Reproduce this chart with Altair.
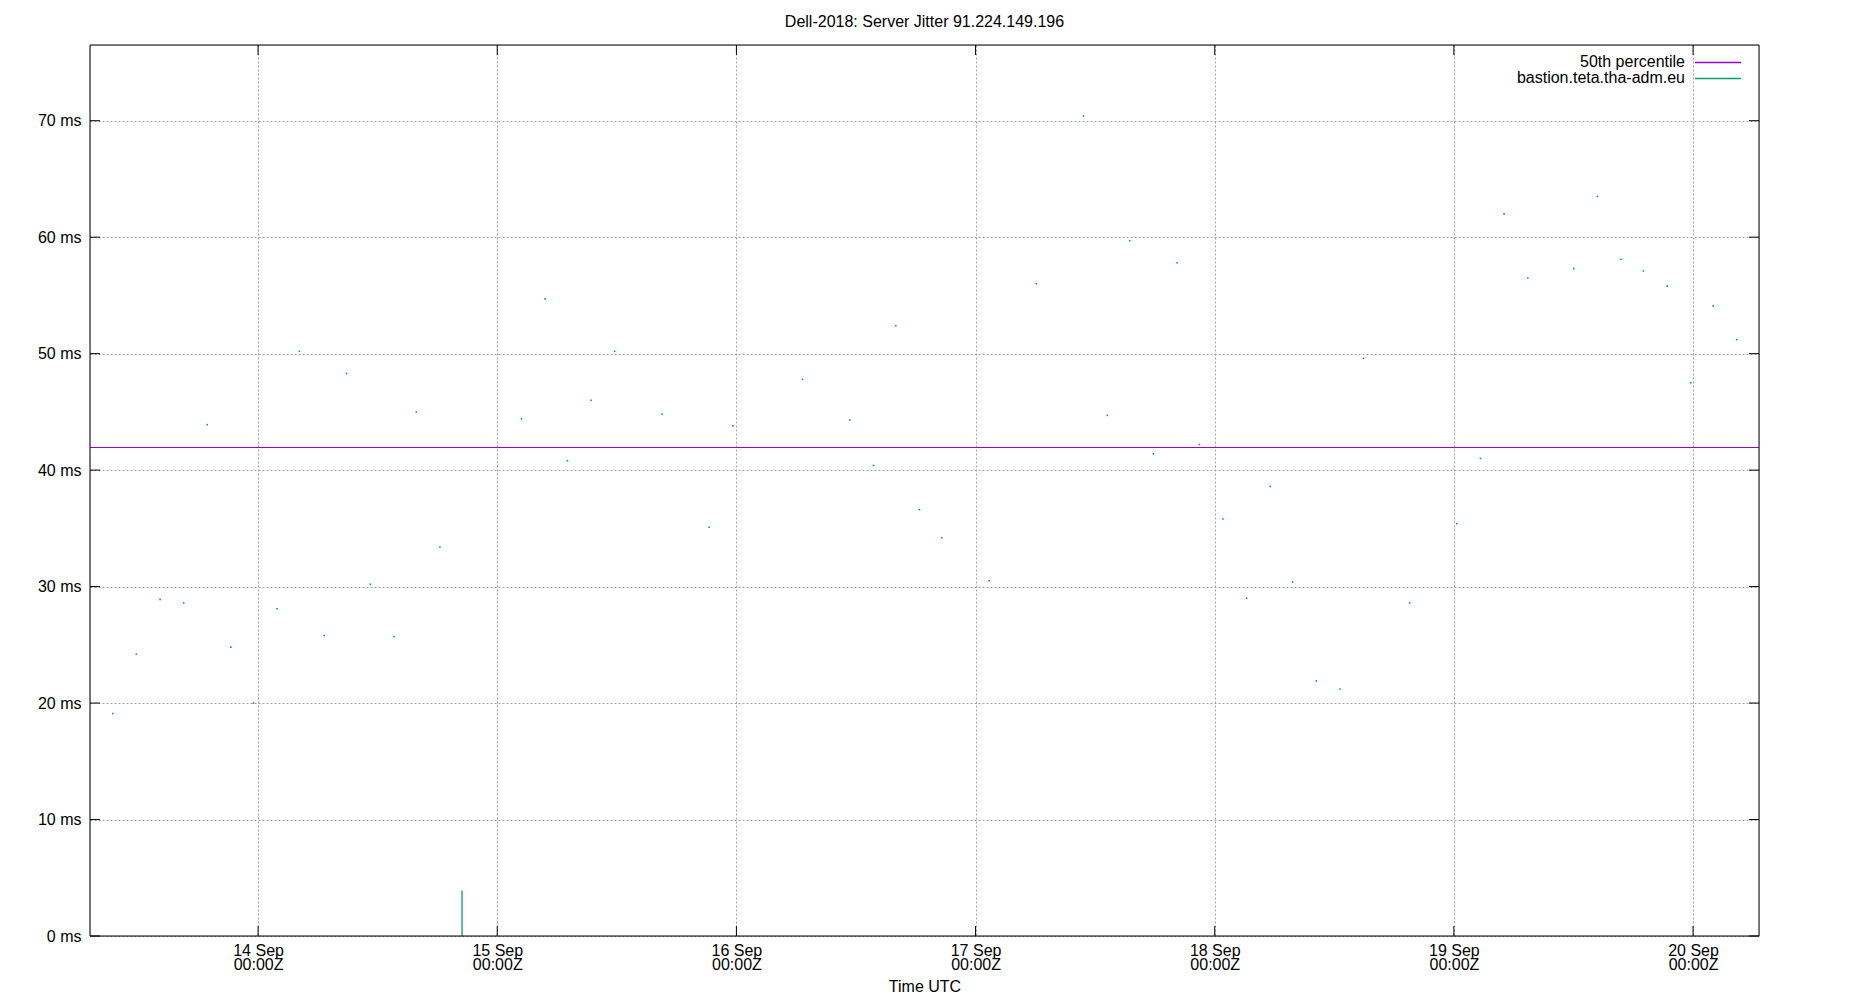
import altair as alt
import pandas as pd

# ---- data ----
times = [
    "2018-09-13T09:25:00Z", "2018-09-13T11:47:00Z", "2018-09-13T14:10:00Z", "2018-09-13T16:32:00Z",
    "2018-09-13T18:54:00Z", "2018-09-13T21:16:00Z", "2018-09-13T23:32:00Z", "2018-09-14T01:54:00Z",
    "2018-09-14T04:09:00Z", "2018-09-14T06:38:00Z", "2018-09-14T08:53:00Z", "2018-09-14T11:16:00Z",
    "2018-09-14T13:38:00Z", "2018-09-14T15:53:00Z", "2018-09-14T18:15:00Z", "2018-09-15T02:26:00Z",
    "2018-09-15T04:48:00Z", "2018-09-15T07:03:00Z", "2018-09-15T09:25:00Z", "2018-09-15T11:47:00Z",
    "2018-09-15T16:32:00Z", "2018-09-15T21:16:00Z", "2018-09-15T23:39:00Z", "2018-09-16T06:38:00Z",
    "2018-09-16T11:23:00Z", "2018-09-16T13:45:00Z", "2018-09-16T16:00:00Z", "2018-09-16T18:22:00Z",
    "2018-09-16T20:37:00Z", "2018-09-17T01:22:00Z", "2018-09-17T06:06:00Z", "2018-09-17T10:50:00Z",
    "2018-09-17T13:13:00Z", "2018-09-17T15:28:00Z", "2018-09-17T17:50:00Z", "2018-09-17T20:13:00Z",
    "2018-09-17T22:28:00Z", "2018-09-18T00:50:00Z", "2018-09-18T03:12:00Z", "2018-09-18T05:34:00Z",
    "2018-09-18T07:49:00Z", "2018-09-18T10:11:00Z", "2018-09-18T12:34:00Z", "2018-09-18T14:56:00Z",
    "2018-09-18T19:34:00Z", "2018-09-19T00:18:00Z", "2018-09-19T02:40:00Z", "2018-09-19T05:02:00Z",
    "2018-09-19T07:25:00Z", "2018-09-19T12:02:00Z", "2018-09-19T14:24:00Z", "2018-09-19T16:46:00Z",
    "2018-09-19T19:01:00Z", "2018-09-19T21:24:00Z", "2018-09-19T23:46:00Z", "2018-09-20T02:01:00Z",
    "2018-09-20T04:23:00Z",
]
jitter_ms = [
    19.1, 24.2, 28.9, 28.6, 43.9, 24.8, 20.0, 28.1,
    50.2, 25.8, 48.3, 30.2, 25.7, 45.0, 33.4, 44.4,
    54.7, 40.8, 46.0, 50.2, 44.8, 35.1, 43.8, 47.8,
    44.3, 40.4, 52.4, 36.6, 34.2, 30.5, 56.0, 70.4,
    44.7, 59.7, 41.4, 57.8, 42.2, 35.8, 29.0, 38.6,
    30.4, 21.9, 21.2, 49.6, 28.6, 35.4, 41.0, 62.0,
    56.5, 57.3, 63.5, 58.1, 57.1, 55.8, 47.5, 54.1,
    51.2,
]
spike_time = ["2018-09-14T20:28:00Z"]
spike_low = [0.0]
spike_high = [3.9]
median_ms = 41.94

series_names = ["50th percentile", "bastion.teta.tha-adm.eu"]
series_colors = ["#9400d3", "#009e73"]

day_ticks = [14, 15, 16, 17, 18, 19, 20]
ms_ticks = [0, 10, 20, 30, 40, 50, 60, 70]

title_text = "Dell-2018: Server Jitter 91.224.149.196"
x_title = "Time UTC"

# ---- layout ----
W, H = 1669, 891
FONT = "Liberation Sans"
GRID = "#a0a0a0"

tick_vals = [alt.DateTime(year=2018, month=9, date=d, hours=0, utc=True) for d in day_ticks]
x_scale = alt.Scale(
    type="utc",
    domain=[alt.DateTime(year=2018, month=9, date=13, hours=7, minutes=8, utc=True),
            alt.DateTime(year=2018, month=9, date=20, hours=6, minutes=37, utc=True)],
)
y_scale = alt.Scale(domain=[0, 76.5], nice=False, zero=False)

x_axis = alt.Axis(
    values=tick_vals,
    labelExpr="[utcFormat(datum.value, '%d %b'), utcFormat(datum.value, '%H:%MZ')]",
    grid=True, gridColor=GRID, gridDash=[2, 2], gridWidth=1,
    ticks=False, domain=False,
    labelFont=FONT, labelFontSize=16, labelColor="black", labelPadding=6,
    labelLineHeight=14.5, labelAngle=0,
    title=x_title, titleFont=FONT, titleFontSize=16, titleFontWeight="normal",
    titleColor="black", titlePadding=6,
)
y_axis = alt.Axis(
    values=ms_ticks,
    labelExpr="datum.value + ' ms'",
    grid=True, gridColor=GRID, gridDash=[2, 2], gridWidth=1,
    ticks=False, domain=False,
    labelFont=FONT, labelFontSize=16, labelColor="black", labelPadding=9,
    title="",
)

pts_df = pd.DataFrame({"time": times, "jitter": jitter_ms})
spike_df = pd.DataFrame({"time": spike_time, "lo": spike_low, "hi": spike_high})
days_df = pd.DataFrame({"t": [f"2018-09-{d:02d}T00:00:00Z" for d in day_ticks]})
ms_df = pd.DataFrame({"v": ms_ticks})

points = alt.Chart(pts_df).mark_square(size=2.5, color=series_colors[1], opacity=1).encode(
    x=alt.X("time:T", scale=x_scale, axis=x_axis),
    y=alt.Y("jitter:Q", scale=y_scale, axis=y_axis),
)

spike = alt.Chart(spike_df).mark_rule(color=series_colors[1], strokeWidth=1.3).encode(
    x=alt.X("time:T", scale=x_scale),
    y=alt.Y("lo:Q", scale=y_scale),
    y2="hi:Q",
)

median = alt.Chart(pd.DataFrame({"m": [median_ms]})).mark_rule(
    color=series_colors[0], strokeWidth=1
).encode(y=alt.Y("m:Q", scale=y_scale))

tick_bottom = alt.Chart(days_df).mark_rule(color="black", strokeWidth=1).encode(
    x=alt.X("t:T", scale=x_scale), y=alt.value(H), y2=alt.value(H - 10))
tick_top = alt.Chart(days_df).mark_rule(color="black", strokeWidth=1).encode(
    x=alt.X("t:T", scale=x_scale), y=alt.value(0), y2=alt.value(10))
tick_left = alt.Chart(ms_df).mark_rule(color="black", strokeWidth=1).encode(
    y=alt.Y("v:Q", scale=y_scale), x=alt.value(0), x2=alt.value(10))
tick_right = alt.Chart(ms_df).mark_rule(color="black", strokeWidth=1).encode(
    y=alt.Y("v:Q", scale=y_scale), x=alt.value(W), x2=alt.value(W - 10))

border = alt.Chart(pd.DataFrame({"a": [0]})).mark_rect(
    filled=False, stroke="black", strokeWidth=1
).encode(x=alt.value(0), x2=alt.value(W), y=alt.value(0), y2=alt.value(H))

title_mark = alt.Chart(pd.DataFrame({"label": [title_text]})).mark_text(
    align="center", baseline="alphabetic", font=FONT, fontSize=16, color="black"
).encode(text="label:N", x=alt.value(W / 2), y=alt.value(-18))

legend_layers = []
for i, (name, col) in enumerate(zip(series_names, series_colors)):
    ly = 17 + i * 16
    legend_layers.append(
        alt.Chart(pd.DataFrame({"label": [name]})).mark_text(
            align="right", baseline="middle", font=FONT, fontSize=16, color="black"
        ).encode(text="label:N", x=alt.value(1595), y=alt.value(ly))
    )
    legend_layers.append(
        alt.Chart(pd.DataFrame({"label": [name]})).mark_rule(color=col, strokeWidth=1.3).encode(
            x=alt.value(1605), x2=alt.value(1651), y=alt.value(ly + 0.5))
    )

chart = alt.layer(
    points, spike, median, tick_bottom, tick_top, tick_left, tick_right, border,
    title_mark, *legend_layers
).properties(
    width=W, height=H,
    padding={"left": 82, "top": 37, "right": 80, "bottom": 62},
    autosize=alt.AutoSizeParams(type="none"),
).configure_view(stroke=None).configure(background="white")

chart.save("out.html", embed_options={"renderer": "svg", "actions": False})
